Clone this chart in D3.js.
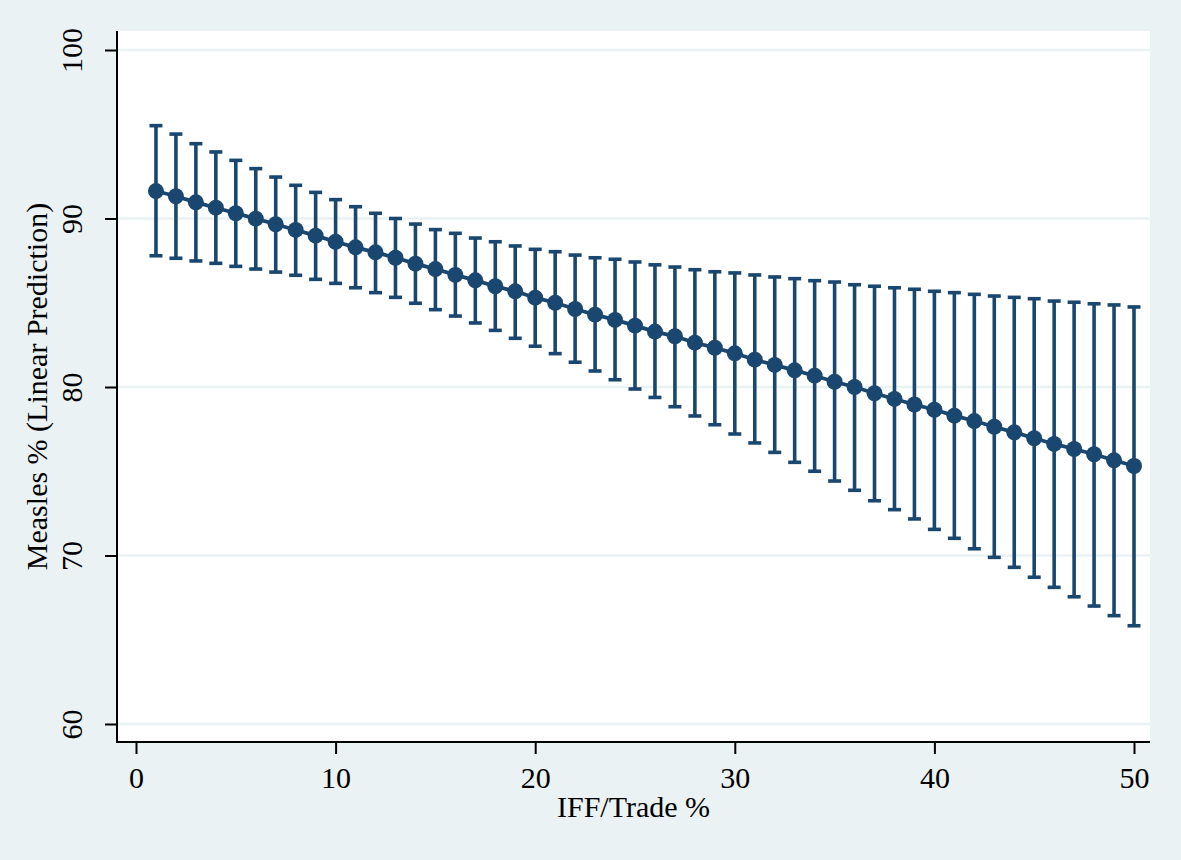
<!DOCTYPE html>
<html>
<head>
<meta charset="utf-8">
<script src="https://cdn.jsdelivr.net/npm/d3@7"></script>
<style>
  html, body { margin: 0; padding: 0; background: #EAF2F3; }
  svg { display: block; }
  text { font-family: "Liberation Serif", "Times New Roman", Times, serif; fill: #000; }
</style>
</head>
<body>
<svg id="chart" width="1181" height="860"></svg>
<script>
// ---- Data ----
const xValues = [1,2,3,4,5,6,7,8,9,10,11,12,13,14,15,16,17,18,19,20,21,22,23,24,25,
                 26,27,28,29,30,31,32,33,34,35,36,37,38,39,40,41,42,43,44,45,46,47,48,49,50];
const predicted = [91.63,91.32,90.96,90.64,90.31,89.99,89.66,89.32,88.98,88.62,
                   88.29,87.99,87.67,87.32,87.00,86.65,86.33,85.98,85.68,85.30,
                   85.00,84.63,84.29,83.98,83.64,83.29,83.01,82.63,82.33,82.00,
                   81.62,81.31,80.99,80.67,80.31,80.00,79.63,79.29,78.96,78.65,
                   78.30,77.98,77.64,77.31,76.96,76.62,76.32,76.01,75.65,75.31];
const upperCI = [95.51,95.01,94.44,93.95,93.45,92.96,92.46,91.97,91.55,91.12,
                 90.70,90.31,90.00,89.67,89.34,89.12,88.84,88.62,88.37,88.17,
                 88.03,87.83,87.67,87.58,87.42,87.25,87.12,86.96,86.84,86.77,
                 86.65,86.53,86.43,86.31,86.23,86.07,85.98,85.89,85.80,85.68,
                 85.60,85.50,85.40,85.32,85.24,85.10,85.03,84.94,84.87,84.75];
const lowerCI = [87.79,87.64,87.48,87.34,87.16,87.00,86.82,86.63,86.39,86.15,
                 85.89,85.60,85.32,84.97,84.59,84.21,83.80,83.36,82.89,82.42,
                 81.98,81.47,80.95,80.43,79.88,79.38,78.83,78.28,77.76,77.21,
                 76.68,76.12,75.53,75.00,74.42,73.87,73.25,72.72,72.17,71.55,
                 71.02,70.40,69.89,69.30,68.71,68.11,67.55,67.00,66.43,65.83];
const xTicks = [0,10,20,30,40,50];
const yTicks = [60,70,80,90,100];
const xTitle = "IFF/Trade %";
const yTitle = "Measles % (Linear Prediction)";

// ---- Layout ----
const W = 1181, H = 860;
const plot = { left: 117, right: 1150, top: 31, bottom: 742 };
const navy = "#1a476f";
const bg = "#EAF2F3";

const svg = d3.select("#chart");

const x = d3.scaleLinear().domain([0, 50]).range([136, 1134]);
const y = d3.scaleLinear().domain([60, 100]).range([724, 50]);

const data = xValues.map((v, i) => ({ x: v, p: predicted[i], lo: lowerCI[i], hi: upperCI[i] }));

// background
svg.append("rect").attr("x", 0).attr("y", 0).attr("width", W).attr("height", H).attr("fill", bg);
// plot region
svg.append("rect")
  .attr("x", plot.left).attr("y", plot.top)
  .attr("width", plot.right - plot.left).attr("height", plot.bottom - plot.top)
  .attr("fill", "#ffffff");

// gridlines
svg.append("g").selectAll("line").data(yTicks).join("line")
  .attr("x1", plot.left).attr("x2", plot.right)
  .attr("y1", d => y(d)).attr("y2", d => y(d))
  .attr("stroke", bg).attr("stroke-width", 2.5);

// error bars
const capHalf = 6.5;
const eb = svg.append("g").attr("stroke", navy).attr("stroke-width", 3.6).attr("fill", "none");
eb.selectAll("line.v").data(data).join("line").attr("class", "v")
  .attr("x1", d => x(d.x)).attr("x2", d => x(d.x))
  .attr("y1", d => y(d.lo)).attr("y2", d => y(d.hi));
eb.selectAll("line.ct").data(data).join("line").attr("class", "ct")
  .attr("x1", d => x(d.x) - capHalf).attr("x2", d => x(d.x) + capHalf)
  .attr("y1", d => y(d.hi)).attr("y2", d => y(d.hi));
eb.selectAll("line.cb").data(data).join("line").attr("class", "cb")
  .attr("x1", d => x(d.x) - capHalf).attr("x2", d => x(d.x) + capHalf)
  .attr("y1", d => y(d.lo)).attr("y2", d => y(d.lo));

// connecting line
const line = d3.line().x(d => x(d.x)).y(d => y(d.p));
svg.append("path").datum(data)
  .attr("d", line).attr("fill", "none")
  .attr("stroke", navy).attr("stroke-width", 3.8);

// markers
svg.append("g").selectAll("circle").data(data).join("circle")
  .attr("cx", d => x(d.x)).attr("cy", d => y(d.p))
  .attr("r", 8).attr("fill", navy);

// axes
const fontSize = 30;
const yAxis = d3.axisLeft(y).tickValues(yTicks).tickSize(12).tickSizeOuter(0).tickFormat(d3.format("d"));
const gy = svg.append("g").attr("transform", `translate(${plot.left},0)`).call(yAxis);
gy.select(".domain").remove();
gy.selectAll(".tick line").attr("stroke", "#000").attr("stroke-width", 2);
gy.selectAll(".tick text")
  .attr("x", null).attr("dy", null)
  .attr("transform", "translate(-35,0) rotate(-90)")
  .attr("text-anchor", "middle")
  .style("font-size", fontSize + "px")
  .style("font-family", '"Liberation Serif", "Times New Roman", serif')
  .attr("fill", "#000");

const xAxis = d3.axisBottom(x).tickValues(xTicks).tickSize(12).tickSizeOuter(0).tickFormat(d3.format("d"));
const gx = svg.append("g").attr("transform", `translate(0,${plot.bottom})`).call(xAxis);
gx.select(".domain").remove();
gx.selectAll(".tick line").attr("stroke", "#000").attr("stroke-width", 2);
gx.selectAll(".tick text")
  .attr("y", 46).attr("dy", null)
  .attr("text-anchor", "middle")
  .style("font-size", fontSize + "px")
  .style("font-family", '"Liberation Serif", "Times New Roman", serif')
  .attr("fill", "#000");

// axis lines
svg.append("line").attr("x1", plot.left).attr("x2", plot.left)
  .attr("y1", plot.top).attr("y2", plot.bottom + 1)
  .attr("stroke", "#000").attr("stroke-width", 2);
svg.append("line").attr("x1", plot.left - 1).attr("x2", plot.right)
  .attr("y1", plot.bottom).attr("y2", plot.bottom)
  .attr("stroke", "#000").attr("stroke-width", 2);

// titles
svg.append("text")
  .attr("x", (plot.left + plot.right) / 2).attr("y", 817)
  .attr("text-anchor", "middle")
  .style("font-size", fontSize + "px")
  .text(xTitle);
svg.append("text")
  .attr("transform", `translate(46.5,${(plot.top + plot.bottom) / 2}) rotate(-90)`)
  .attr("text-anchor", "middle")
  .style("font-size", fontSize + "px")
  .text(yTitle);
</script>
</body>
</html>
